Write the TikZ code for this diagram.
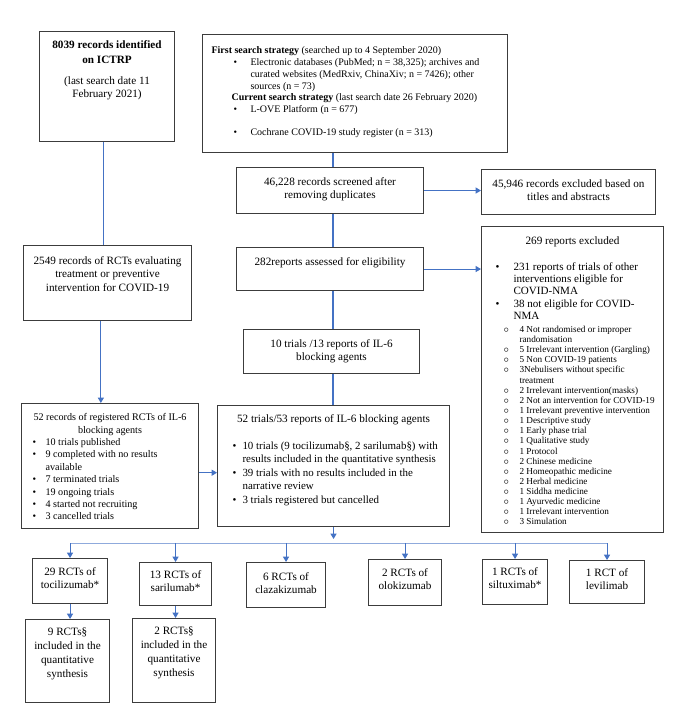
\documentclass[tikz,border=0pt]{standalone}
\usepackage{fontspec}
\setmainfont{Liberation Serif}
\usepackage{tikz}
\usetikzlibrary{arrows.meta}
\definecolor{connBlue}{RGB}{68,114,196}
\definecolor{busBlue}{RGB}{143,170,220}
\definecolor{boxGray}{RGB}{60,60,60}
\newlength{\pxu}
\setlength{\pxu}{0.75pt}
% box text: width, height, top pad (in px), content
\newcommand{\inbox}[4]{\parbox[c][#2\pxu][t]{#1\pxu}{\vspace*{#3\pxu}\centering #4}}
\newcommand{\bul}[1][13]{\makebox[#1\pxu][l]{\textbullet}}
\newcommand{\sbul}{\makebox[16\pxu][l]{$\circ$}}
\tikzset{
  flowbox/.style={rectangle, draw=boxGray, line width=0.8pt, inner sep=0pt,
    anchor=north west, font=\fontsize{8.4}{10}\selectfont},
  flowLine/.style={draw=connBlue, line width=0.8pt},
  flowArrow/.style={-{Triangle[length=4pt,width=4.5pt]}, draw=connBlue, line width=0.8pt},
  busLine/.style={draw=busBlue, line width=0.6pt}
}
\begin{document}
\begin{tikzpicture}[x=0.75pt, y=-0.75pt]
  \useasboundingbox (0,0) rectangle (680,722);
  % top row
  \node[flowbox] (ictrp) at (39,31) {\inbox{135}{110}{9}{{\bfseries 8039 records identified\\[1pt]on ICTRP\par}\vspace{6pt}(last search date 11\\February 2021)}};
  \node[flowbox] (search) at (202,34) {\inbox{305}{118}{12}{\raggedright\leftskip=9\pxu\fontsize{7.5}{8.9}\selectfont
    \textbf{First search strategy} (searched up to 4 September 2020)\\
    \hspace*{22\pxu}\bul[17]Electronic databases (PubMed; n = 38,325); archives and\\
    \hspace*{39\pxu}curated websites (MedRxiv, ChinaXiv; n = 7426); other\\
    \hspace*{39\pxu}sources (n = 73)\\
    \hspace*{20\pxu}\textbf{Current search strategy} (last search date 26 February 2020)\\
    \hspace*{22\pxu}\bul[17]L-OVE Platform (n = 677)\\[8pt]
    \hspace*{22\pxu}\bul[17]Cochrane COVID-19 study register (n = 313)}};
  % middle column
  \node[flowbox] (screen) at (236,167) {\inbox{187}{46}{10}{46,228 records screened after\\removing duplicates}};
  \node[flowbox] (excl) at (481,169) {\inbox{174}{45}{10}{45,946 records excluded based on\\titles and abstracts}};
  \node[flowbox] (assess) at (236,247) {\inbox{187}{43}{10}{282reports assessed for eligibility}};
  \node[flowbox] (il6) at (243,329) {\inbox{176}{44}{10}{10 trials /13 reports of IL-6\\blocking agents}};
  \node[flowbox] (trials) at (217,405) {\inbox{232}{121}{9}{52 trials/53 reports of IL-6 blocking agents\par\vspace{10pt}
    \raggedright\leftskip=15\pxu\fontsize{8.2}{10.1}\selectfont
    \bul[10]10 trials (9 tocilizumab§, 2 sarilumab§) with\\
    \hspace*{10\pxu}results included in the quantitative synthesis\\
    \bul[10]39 trials with no results included in the\\
    \hspace*{10\pxu}narrative review\\
    \bul[10]3 trials registered but cancelled}};
  % exclusions
  \node[flowbox] (excl2) at (481,226) {\inbox{182}{306}{10}{269 reports excluded\par\vspace{10pt}
    \raggedright\leftskip=14\pxu\fontsize{8.3}{9.3}\selectfont
    \bul[18]231 reports of trials of other\\
    \hspace*{18\pxu}interventions eligible for\\
    \hspace*{18\pxu}COVID-NMA\\
    \bul[18]38 not eligible for COVID-\\
    \hspace*{18\pxu}NMA\par
    \leftskip=22\pxu\fontsize{6.9}{7.6}\selectfont\vspace{2pt}
    \sbul 4 Not randomised or improper\\
    \hspace*{16\pxu}randomisation\\
    \sbul 5 Irrelevant intervention (Gargling)\\
    \sbul 5 Non COVID-19 patients\\
    \sbul 3Nebulisers without specific\\
    \hspace*{16\pxu}treatment\\
    \sbul 2 Irrelevant intervention(masks)\\
    \sbul 2 Not an intervention for COVID-19\\
    \sbul 1 Irrelevant preventive intervention\\
    \sbul 1 Descriptive study\\
    \sbul 1 Early phase trial\\
    \sbul 1 Qualitative study\\
    \sbul 1 Protocol\\
    \sbul 2 Chinese medicine\\
    \sbul 2 Homeopathic medicine\\
    \sbul 2 Herbal medicine\\
    \sbul 1 Siddha medicine\\
    \sbul 1 Ayurvedic medicine\\
    \sbul 1 Irrelevant intervention\\
    \sbul 3 Simulation}};
  % left column
  \node[flowbox] (rct) at (23,245) {\inbox{168}{75}{11}{2549 records of RCTs evaluating\\treatment or preventive\\intervention for COVID-19}};
  \node[flowbox] (reg) at (21,403) {\inbox{177}{125}{10}{\fontsize{7.6}{9.3}\selectfont 52 records of registered RCTs of IL-6\\blocking agents\par
    \raggedright\leftskip=11\pxu
    \bul 10 trials published\\
    \bul 9 completed with no results\\
    \hspace*{13\pxu}available\\
    \bul 7 terminated trials\\
    \bul 19 ongoing trials\\
    \bul 4 started not recruiting\\
    \bul 3 cancelled trials}};
  % agents
  \node[flowbox] (tocil) at (32,558) {\inbox{75}{45}{9}{29 RCTs of\\tocilizumab*}};
  \node[flowbox] (sari) at (139,562) {\inbox{72}{43}{8}{13 RCTs of\\sarilumab*}};
  \node[flowbox] (claza) at (246,562) {\inbox{79}{45}{10}{6 RCTs of\\clazakizumab}};
  \node[flowbox] (oloki) at (368,559) {\inbox{73}{46}{9}{2 RCTs of\\olokizumab}};
  \node[flowbox] (siltu) at (482,559) {\inbox{65}{45}{8}{1 RCTs of\\siltuximab*}};
  \node[flowbox] (levil) at (569,560) {\inbox{75}{43}{8}{1 RCT of\\levilimab}};
  \node[flowbox] (tocincl) at (25,619) {\inbox{84}{83}{8}{\fontsize{8.4}{10.5}\selectfont 9 RCTs§\\included in the\\quantitative\\synthesis}};
  \node[flowbox] (sarincl) at (132,618) {\inbox{83}{84}{8}{\fontsize{8.4}{10.5}\selectfont 2 RCTs§\\included in the\\quantitative\\synthesis}};
  % connectors
  \coordinate (mid) at (333,0);
  \coordinate (bus) at (0,543);
  \draw[flowLine] ([xshift=-3pt]ictrp.south) -- ([xshift=-3pt]ictrp.south |- rct.north);
  \draw[flowArrow] ([xshift=-5pt]rct.south) -- ([xshift=-5pt]rct.south |- reg.north);
  \draw[flowLine] (search.south -| mid) -- (screen.north -| mid);
  \draw[flowLine] (screen.south -| mid) -- (assess.north -| mid);
  \draw[flowLine] (assess.south -| mid) -- (il6.north -| mid);
  \draw[flowLine] (il6.south -| mid) -- (trials.north -| mid);
  \draw[flowArrow] (screen.east) -- (screen.east -| excl.west);
  \draw[flowArrow] (assess.east) -- (assess.east -| excl2.west);
  \draw[flowArrow] ([yshift=-5pt]reg.east) -- ([yshift=-5pt]reg.east -| trials.west);
  \draw[flowArrow] (trials.south) -- ([yshift=3pt]trials.south |- bus);
  \draw[busLine] (tocil.north |- bus) -- (levil.north |- bus);
  \foreach \k in {tocil,sari,claza,oloki,siltu,levil}
    \draw[flowArrow] (\k.north |- bus) -- (\k.north);
  \draw[flowArrow] (tocil.south) -- (tocil.south |- tocincl.north);
  \draw[flowArrow] (sari.south) -- (sari.south |- sarincl.north);
\end{tikzpicture}
\end{document}
